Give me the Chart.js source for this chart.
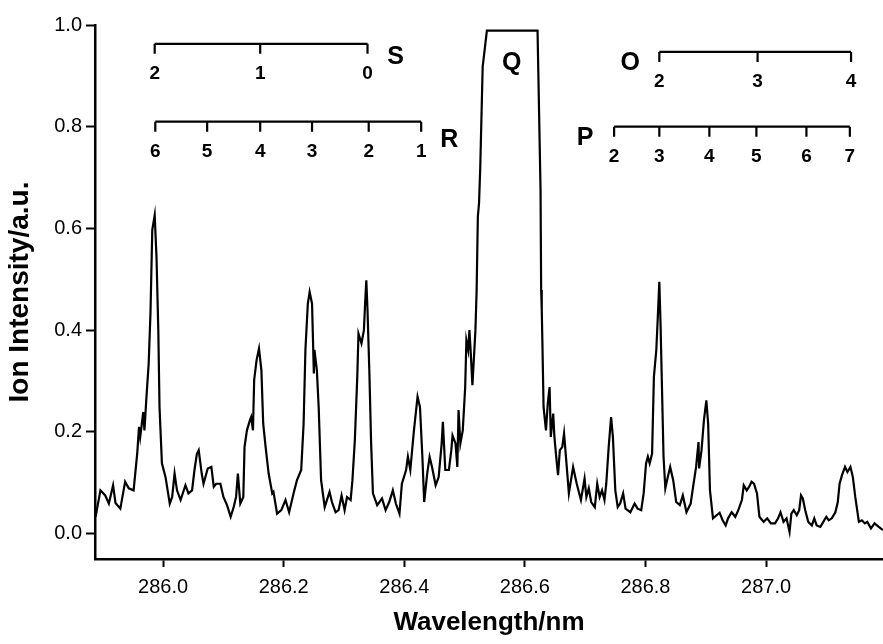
<!DOCTYPE html>
<html>
<head>
<meta charset="utf-8">
<script src="https://cdn.jsdelivr.net/npm/chart.js@4"></script>
<style>
  body { margin: 0; background: #fff; }
  #wrap { width: 883px; height: 644px; position: relative; }
</style>
</head>
<body>
<div id="wrap"><canvas id="spectrumChart"></canvas></div>
<script>
// Ion intensity spectrum with rotational branch assignments
const wavelength = [
  285.888, 285.896, 285.904, 285.910, 285.917, 285.921, 285.929, 285.937, 285.943, 285.951,
  285.957, 285.960, 285.962, 285.967, 285.969, 285.972, 285.976, 285.979, 285.982, 285.986,
  285.989, 285.992, 285.994, 285.998, 286.004, 286.011, 286.015, 286.019, 286.023, 286.029,
  286.037, 286.042, 286.048, 286.052, 286.056, 286.059, 286.064, 286.067, 286.074, 286.080,
  286.084, 286.088, 286.095, 286.100, 286.106, 286.112, 286.117, 286.121, 286.124, 286.128,
  286.133, 286.135, 286.139, 286.144, 286.146, 286.149, 286.151, 286.155, 286.159, 286.163,
  286.166, 286.170, 286.175, 286.181, 286.183, 286.189, 286.196, 286.203, 286.209, 286.217,
  286.222, 286.229, 286.233, 286.236, 286.240, 286.243, 286.247, 286.250, 286.251, 286.255,
  286.258, 286.262, 286.268, 286.276, 286.280, 286.286, 286.291, 286.296, 286.301, 286.305,
  286.311, 286.314, 286.318, 286.322, 286.324, 286.329, 286.333, 286.335, 286.337, 286.339,
  286.342, 286.345, 286.348, 286.355, 286.363, 286.369, 286.375, 286.381, 286.386, 286.392,
  286.396, 286.403, 286.406, 286.410, 286.416, 286.422, 286.426, 286.430, 286.433, 286.438,
  286.442, 286.446, 286.452, 286.457, 286.462, 286.464, 286.468, 286.474, 286.478, 286.480,
  286.485, 286.488, 286.490, 286.493, 286.497, 286.501, 286.503, 286.506, 286.508, 286.510,
  286.513, 286.518, 286.520, 286.522, 286.524, 286.526, 286.530, 286.537, 286.621, 286.626,
  286.627, 286.628, 286.629, 286.631, 286.635, 286.638, 286.641, 286.643, 286.647, 286.649,
  286.652, 286.655, 286.658, 286.662, 286.665, 286.669, 286.673, 286.680, 286.686, 286.693,
  286.699, 286.702, 286.706, 286.710, 286.716, 286.720, 286.724, 286.728, 286.732, 286.735,
  286.739, 286.743, 286.746, 286.750, 286.754, 286.758, 286.763, 286.767, 286.775, 286.782,
  286.787, 286.793, 286.797, 286.801, 286.804, 286.807, 286.811, 286.814, 286.818, 286.820,
  286.823, 286.825, 286.827, 286.830, 286.833, 286.837, 286.841, 286.846, 286.851, 286.857,
  286.862, 286.868, 286.875, 286.879, 286.884, 286.888, 286.889, 286.893, 286.897, 286.901,
  286.904, 286.907, 286.912, 286.923, 286.928, 286.933, 286.937, 286.943, 286.949, 286.954,
  286.960, 286.963, 286.968, 286.972, 286.976, 286.980, 286.985, 286.989, 286.996, 287.002,
  287.008, 287.015, 287.020, 287.024, 287.029, 287.034, 287.039, 287.042, 287.046, 287.051,
  287.055, 287.058, 287.061, 287.065, 287.070, 287.076, 287.080, 287.084, 287.090, 287.095,
  287.100, 287.104, 287.109, 287.115, 287.119, 287.122, 287.126, 287.131, 287.135, 287.140,
  287.144, 287.148, 287.154, 287.159, 287.164, 287.168, 287.174, 287.180, 287.187, 287.194
];
const intensity = [
  0.033, 0.085, 0.075, 0.059, 0.095, 0.060, 0.049, 0.102, 0.089, 0.085,
  0.157, 0.210, 0.190, 0.239, 0.203, 0.262, 0.334, 0.433, 0.597, 0.626,
  0.544, 0.400, 0.249, 0.138, 0.111, 0.059, 0.072, 0.118, 0.085, 0.066,
  0.095, 0.079, 0.085, 0.125, 0.157, 0.164, 0.118, 0.098, 0.128, 0.131,
  0.092, 0.098, 0.098, 0.072, 0.056, 0.033, 0.052, 0.072, 0.118, 0.059,
  0.072, 0.170, 0.203, 0.223, 0.229, 0.203, 0.302, 0.341, 0.364, 0.321,
  0.216, 0.170, 0.118, 0.079, 0.082, 0.039, 0.046, 0.066, 0.042, 0.082,
  0.105, 0.125, 0.216, 0.361, 0.452, 0.475, 0.452, 0.315, 0.361, 0.321,
  0.249, 0.105, 0.052, 0.082, 0.062, 0.042, 0.046, 0.075, 0.046, 0.072,
  0.066, 0.105, 0.184, 0.308, 0.393, 0.374, 0.400, 0.452, 0.498, 0.439,
  0.321, 0.177, 0.079, 0.056, 0.069, 0.046, 0.062, 0.085, 0.059, 0.039,
  0.098, 0.125, 0.151, 0.125, 0.203, 0.269, 0.249, 0.151, 0.062, 0.118,
  0.151, 0.131, 0.095, 0.111, 0.177, 0.220, 0.125, 0.125, 0.164, 0.193,
  0.177, 0.131, 0.243, 0.177, 0.203, 0.288, 0.380, 0.361, 0.400, 0.361,
  0.292, 0.400, 0.479, 0.623, 0.650, 0.720, 0.918, 0.989, 0.989, 0.675,
  0.479, 0.440, 0.380, 0.249, 0.203, 0.256, 0.288, 0.190, 0.236, 0.190,
  0.151, 0.115, 0.164, 0.170, 0.197, 0.138, 0.079, 0.131, 0.098, 0.066,
  0.108, 0.072, 0.089, 0.062, 0.052, 0.098, 0.072, 0.085, 0.066, 0.098,
  0.170, 0.229, 0.190, 0.085, 0.052, 0.059, 0.079, 0.049, 0.042, 0.059,
  0.049, 0.046, 0.079, 0.138, 0.151, 0.138, 0.157, 0.308, 0.361, 0.413,
  0.495, 0.413, 0.308, 0.151, 0.089, 0.111, 0.131, 0.105, 0.062, 0.056,
  0.075, 0.042, 0.059, 0.092, 0.131, 0.180, 0.128, 0.164, 0.223, 0.262,
  0.216, 0.085, 0.030, 0.041, 0.026, 0.016, 0.030, 0.042, 0.033, 0.046,
  0.066, 0.095, 0.085, 0.092, 0.102, 0.098, 0.079, 0.033, 0.023, 0.030,
  0.020, 0.020, 0.030, 0.042, 0.023, 0.030, 0.003, 0.039, 0.046, 0.036,
  0.046, 0.075, 0.069, 0.046, 0.023, 0.016, 0.030, 0.016, 0.013, 0.023,
  0.033, 0.026, 0.030, 0.042, 0.062, 0.098, 0.115, 0.131, 0.121, 0.131,
  0.111, 0.072, 0.023, 0.026, 0.020, 0.023, 0.010, 0.020, 0.013, 0.007
];

const xTicks = [286.0, 286.2, 286.4, 286.6, 286.8, 287.0];
const yTicks = [0.0, 0.2, 0.4, 0.6, 0.8, 1.0];

// branch line positions (nm) and their J labels
const sBranch = [285.986, 286.161, 286.339];
const sLabels = ["2", "1", "0"];
const rBranch = [285.987, 286.073, 286.161, 286.247, 286.341, 286.428];
const rLabels = ["6", "5", "4", "3", "2", "1"];
const oBranch = [286.823, 286.986, 287.141];
const oLabels = ["2", "3", "4"];
const pBranch = [286.748, 286.823, 286.906, 286.984, 287.067, 287.139];
const pLabels = ["2", "3", "4", "5", "6", "7"];
const branchLevels = { S: 0.963, R: 0.81, O: 0.947, P: 0.8 };
const qLabelAt = { x: 286.578, y: 0.925 };

const FONT = "'Liberation Sans', Arial, sans-serif";

const branches = [
  { name: "S", pos: sBranch, labels: sLabels, level: branchLevels.S, side: "right", dy: 13 },
  { name: "R", pos: rBranch, labels: rLabels, level: branchLevels.R, side: "right", dy: 18 },
  { name: "O", pos: oBranch, labels: oLabels, level: branchLevels.O, side: "left", dy: 11 },
  { name: "P", pos: pBranch, labels: pLabels, level: branchLevels.P, side: "left", dy: 11 },
];

const branchPlugin = {
  id: "branches",
  afterDraw(chart) {
    const { ctx, scales: { x, y } } = chart;
    ctx.save();
    ctx.strokeStyle = "#000";
    ctx.fillStyle = "#000";
    ctx.lineWidth = 2.2;
    ctx.textAlign = "center";
    ctx.textBaseline = "middle";
    branches.forEach((b) => {
      const yy = y.getPixelForValue(b.level);
      const xs = b.pos.map((v) => x.getPixelForValue(v));
      ctx.beginPath();
      ctx.moveTo(xs[0], yy);
      ctx.lineTo(xs[xs.length - 1], yy);
      xs.forEach((px) => {
        ctx.moveTo(px, yy);
        ctx.lineTo(px, yy + 10);
      });
      ctx.stroke();
      ctx.font = "bold 19px " + FONT;
      xs.forEach((px, i) => ctx.fillText(b.labels[i], px, yy + 30));
      ctx.font = "bold 25px " + FONT;
      const nx = b.side === "right" ? xs[xs.length - 1] + 28 : xs[0] - 29;
      ctx.fillText(b.name, nx, yy + b.dy);
    });
    ctx.font = "bold 25px " + FONT;
    ctx.fillText("Q", x.getPixelForValue(qLabelAt.x), y.getPixelForValue(qLabelAt.y));
    ctx.restore();
  },
};

const ctx = document.getElementById("spectrumChart").getContext("2d");
new Chart(ctx, {
  type: "line",
  data: {
    datasets: [
      {
        data: wavelength.map((w, i) => ({ x: w, y: intensity[i] })),
        borderColor: "#000",
        borderWidth: 2.2,
        pointRadius: 0,
        tension: 0,
        fill: false,
      },
    ],
  },
  options: {
    responsive: true,
    maintainAspectRatio: false,
    animation: false,
    layout: { padding: { top: 25, left: 0, right: 0, bottom: 0 } },
    plugins: {
      legend: { display: false },
      tooltip: { enabled: false },
    },
    scales: {
      x: {
        type: "linear",
        min: 285.887,
        max: 287.194,
        afterBuildTicks: (scale) => {
          scale.ticks = xTicks.map((v) => ({ value: v }));
        },
        afterFit: (scale) => {
          scale.height = 85;
        },
        border: { color: "#000", width: 2.5 },
        grid: { drawOnChartArea: false, drawTicks: true, tickLength: 8, tickWidth: 2, color: "#000" },
        ticks: {
          color: "#000",
          padding: 8,
          maxRotation: 0,
          font: { family: FONT, size: 20 },
          callback: (v) => Number(v).toFixed(1),
        },
        title: {
          display: true,
          text: "Wavelength/nm",
          color: "#000",
          font: { family: FONT, size: 26, weight: "bold" },
          padding: { top: 0, bottom: 6 },
        },
      },
      y: {
        min: -0.05,
        max: 1.0,
        afterBuildTicks: (scale) => {
          scale.ticks = yTicks.map((v) => ({ value: v }));
        },
        afterFit: (scale) => {
          scale.width = 95;
        },
        border: { color: "#000", width: 2.5 },
        grid: { drawOnChartArea: false, drawTicks: true, tickLength: 9, tickWidth: 2, color: "#000" },
        ticks: {
          color: "#000",
          padding: 4,
          font: { family: FONT, size: 20 },
          callback: (v) => Number(v).toFixed(1),
        },
        title: {
          display: true,
          text: "Ion Intensity/a.u.",
          color: "#000",
          font: { family: FONT, size: 28, weight: "bold" },
          padding: { top: 3, bottom: 0 },
        },
      },
    },
  },
  plugins: [branchPlugin],
});
</script>
</body>
</html>
